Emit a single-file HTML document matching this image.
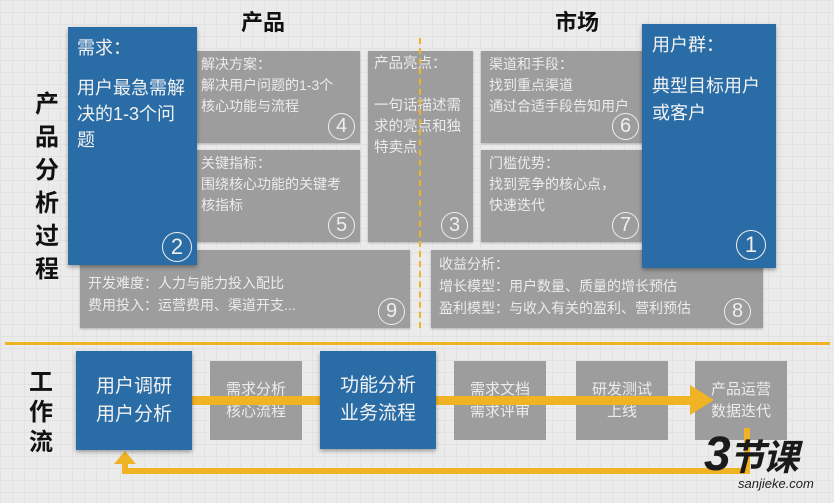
<!DOCTYPE html>
<html><head><meta charset="utf-8"><style>
*{margin:0;padding:0;box-sizing:border-box}
body{width:834px;height:503px;overflow:hidden;position:relative;font-family:"Liberation Sans","Noto Sans CJK SC",sans-serif;
background-color:#ebebeb;background-image:linear-gradient(#e2e2e2 1px,transparent 1px),linear-gradient(90deg,#e2e2e2 1px,transparent 1px);background-size:12px 12px}
.a{position:absolute}
.g{position:absolute;background:#9d9d9d;color:#ececec;font-size:14px;line-height:21px;padding:3px 4px;box-shadow:0 1px 2px rgba(0,0,0,.25)}
.b{position:absolute;background:#2a6ca6;color:#f2f2f2;box-shadow:0 2px 4px rgba(0,0,0,.35)}
.n{position:absolute;right:5px;bottom:3px;width:27px;height:27px;border:1.5px solid #eee;border-radius:50%;font-size:20px;line-height:24px;text-align:center;color:#eee}
.h{position:absolute;font-size:22px;font-weight:bold;color:#111}
.v{position:absolute;font-size:24px;font-weight:bold;color:#111;width:30px;text-align:center}
.w{position:absolute;background:#9d9d9d;color:#ececec;font-size:15px;line-height:22px;text-align:center;display:flex;align-items:center;justify-content:center}
.wb{position:absolute;background:#2a6ca6;color:#f2f2f2;font-size:19px;line-height:28px;text-align:center;display:flex;align-items:center;justify-content:center;box-shadow:0 2px 4px rgba(0,0,0,.35)}
</style></head><body>
<div class="h" style="left:241px;top:5px">产品</div>
<div class="h" style="left:555px;top:5px">市场</div>
<div class="v" style="left:32px;top:88px;line-height:33px">产<br>品<br>分<br>析<br>过<br>程</div>

<div class="g" style="left:80px;top:250px;width:330px;height:78px;padding:0 8px;font-size:14px;line-height:22px"><div style="height:22px;overflow:hidden;line-height:14px">成本分析</div>开发难度：人力与能力投入配比<br>费用投入：运营费用、渠道开支...<div class="n">9</div></div>
<div class="g" style="left:431px;top:250px;width:332px;height:78px;padding:3px 8px;font-size:14px;line-height:22px">收益分析：<br>增长模型：用户数量、质量的增长预估<br>盈利模型：与收入有关的盈利、营利预估<div class="n" style="right:12px">8</div></div>

<div class="g" style="left:197px;top:51px;width:163px;height:92px">解决方案：<br>解决用户问题的1-3个<br>核心功能与流程<div class="n">4</div></div>
<div class="g" style="left:197px;top:150px;width:163px;height:92px">关键指标：<br>围绕核心功能的关键考<br>核指标<div class="n">5</div></div>
<div class="g" style="left:368px;top:51px;width:105px;height:191px;padding:3px 6px;font-size:14.5px">产品亮点：<br><br>一句话描述需<br>求的亮点和独<br>特卖点<div class="n">3</div></div>
<div class="g" style="left:481px;top:51px;width:170px;height:92px;padding:3px 8px">渠道和手段：<br>找到重点渠道<br>通过合适手段告知用户<div class="n" style="right:12px">6</div></div>
<div class="g" style="left:481px;top:150px;width:170px;height:92px;padding:3px 8px">门槛优势：<br>找到竞争的核心点，<br>快速迭代<div class="n" style="right:12px">7</div></div>

<div class="a" style="left:419px;top:38px;height:290px;border-left:2px dashed #f0b323"></div>

<div class="b" style="left:68px;top:27px;width:129px;height:238px;padding:8px 9px;font-size:18px;line-height:26px">需求：<div style="height:14px"></div>用户最急需解<br>决的1-3个问<br>题<div class="n" style="width:30px;height:30px;font-size:22px;line-height:27px">2</div></div>
<div class="b" style="left:642px;top:24px;width:134px;height:244px;padding:8px 10px;font-size:18px;line-height:27px">用户群：<div style="height:14px"></div>典型目标用户<br>或客户<div class="n" style="width:30px;height:30px;font-size:22px;line-height:27px;right:10px;bottom:8px">1</div></div>

<div class="a" style="left:5px;top:342px;width:825px;height:3px;background:#f0b323"></div>
<div class="v" style="left:26px;top:368px;line-height:30px">工<br>作<br>流</div>

<div class="w" style="left:210px;top:361px;width:92px;height:79px">需求分析<br>核心流程</div>
<div class="w" style="left:454px;top:361px;width:92px;height:79px">需求文档<br>需求评审</div>
<div class="w" style="left:576px;top:361px;width:92px;height:79px">研发测试<br>上线</div>
<div class="w" style="left:695px;top:361px;width:92px;height:79px">产品运营<br>数据迭代</div>

<svg class="a" style="left:0;top:0" width="834" height="503">
<rect x="190" y="396" width="502" height="9" fill="#f0b323"/>
<polygon points="690,385 714,400 690,415" fill="#f0b323"/>
<polyline points="747,428 747,471 125,471 125,462" fill="none" stroke="#f0b323" stroke-width="6"/>
<polygon points="114,464 136,464 125,451" fill="#f0b323"/>
</svg>

<div class="wb" style="left:76px;top:351px;width:116px;height:99px">用户调研<br>用户分析</div>
<div class="wb" style="left:320px;top:351px;width:116px;height:98px">功能分析<br>业务流程</div>

<div class="a" style="left:704px;top:432px;font-size:48px;font-weight:bold;font-style:italic;color:#1a1a1a;line-height:46px;letter-spacing:-2px">3<span style="font-size:36px">节课</span></div>
<div class="a" style="left:738px;top:476px;font-size:13px;font-style:italic;color:#222">sanjieke.com</div>
</body></html>
